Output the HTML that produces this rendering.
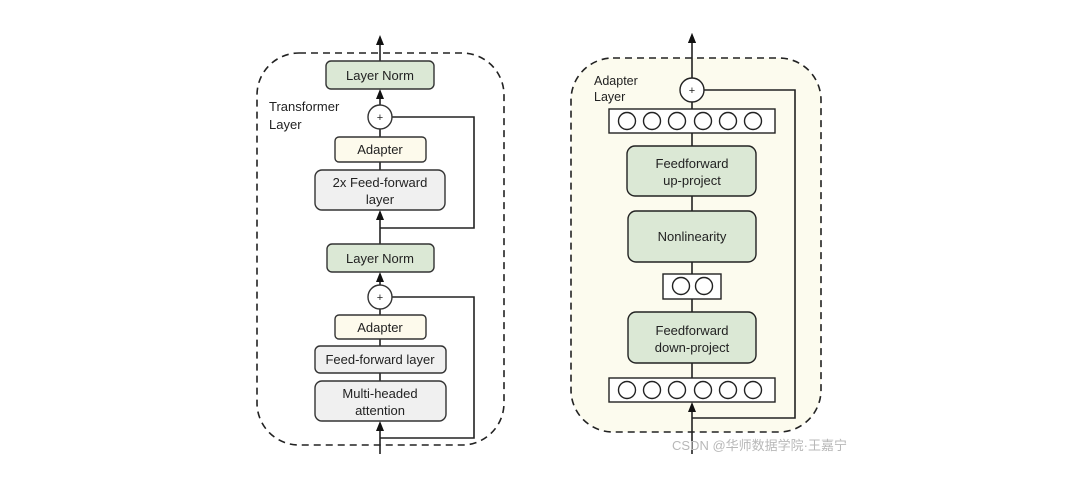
<!DOCTYPE html>
<html><head><meta charset="utf-8"><style>
body{margin:0;background:#fff}
text{font-family:"Liberation Sans","Noto Sans CJK SC",sans-serif;fill:#222}
</style></head><body>
<svg width="1080" height="477" viewBox="0 0 1080 477" xmlns="http://www.w3.org/2000/svg">
<g stroke="#222" stroke-width="1.6" fill="none">
<!-- Left panel -->
<rect x="257" y="53" width="247" height="392" rx="42" stroke-dasharray="7,5"/>
<line x1="380" y1="61" x2="380" y2="42"/>
<line x1="380" y1="105" x2="380" y2="96"/>
<line x1="380" y1="129" x2="380" y2="137"/>
<line x1="380" y1="162" x2="380" y2="170"/>
<polyline points="392,117 474,117 474,228 380,228"/>
<line x1="380" y1="244" x2="380" y2="217"/>
<line x1="380" y1="285" x2="380" y2="279"/>
<line x1="380" y1="309" x2="380" y2="315"/>
<line x1="380" y1="339" x2="380" y2="346"/>
<line x1="380" y1="373" x2="380" y2="381"/>
<polyline points="392,297 474,297 474,438 380,438"/>
<line x1="380" y1="454" x2="380" y2="428"/>
</g>
<g fill="#111">
<polygon points="380,35 376,45 384,45"/>
<polygon points="380,89 376,99 384,99"/>
<polygon points="380,210 376,220 384,220"/>
<polygon points="380,272 376,282 384,282"/>
<polygon points="380,421 376,431 384,431"/>
<polygon points="692,33 688,43 696,43"/>
<polygon points="692,402 688,412 696,412"/>
</g>
<g stroke="#333" stroke-width="1.4">
<rect x="326" y="61" width="108" height="28" rx="5" fill="#dbe8d5"/>
<circle cx="380" cy="117" r="12" fill="#fff"/>
<rect x="335" y="137" width="91" height="25" rx="4" fill="#fdfaec"/>
<rect x="315" y="170" width="130" height="40" rx="7" fill="#f0f0f0"/>
<rect x="327" y="244" width="107" height="28" rx="5" fill="#dbe8d5"/>
<circle cx="380" cy="297" r="12" fill="#fff"/>
<rect x="335" y="315" width="91" height="24" rx="4" fill="#fdfaec"/>
<rect x="315" y="346" width="131" height="27" rx="5" fill="#f0f0f0"/>
<rect x="315" y="381" width="131" height="40" rx="7" fill="#f0f0f0"/>
</g>
<g font-size="13" text-anchor="middle">
<text x="380" y="80">Layer Norm</text>
<text x="380" y="121" font-size="11">+</text>
<text x="380" y="154">Adapter</text>
<text x="380" y="187">2x Feed-forward</text>
<text x="380" y="204">layer</text>
<text x="380" y="263">Layer Norm</text>
<text x="380" y="301" font-size="11">+</text>
<text x="380" y="332">Adapter</text>
<text x="380" y="364">Feed-forward layer</text>
<text x="380" y="398">Multi-headed</text>
<text x="380" y="415">attention</text>
</g>
<text x="269" y="111" font-size="13">Transformer</text>
<text x="269" y="129" font-size="13">Layer</text>
<!-- Right panel -->
<rect x="571" y="58" width="250" height="374" rx="42" fill="#fcfbee" stroke="#222" stroke-width="1.6" stroke-dasharray="7,5"/>
<g stroke="#222" stroke-width="1.6" fill="none">
<line x1="692" y1="78" x2="692" y2="40"/>
<line x1="692" y1="102" x2="692" y2="109"/>
<line x1="692" y1="133" x2="692" y2="146"/>
<line x1="692" y1="196" x2="692" y2="211"/>
<line x1="692" y1="262" x2="692" y2="274"/>
<line x1="692" y1="299" x2="692" y2="312"/>
<line x1="692" y1="363" x2="692" y2="378"/>
<polyline points="704,90 795,90 795,418 692,418"/>
<line x1="692" y1="454" x2="692" y2="409"/>
</g>
<g fill="#111">
<polygon points="692,33 688,43 696,43"/>
<polygon points="692,402 688,412 696,412"/>
</g>
<g stroke="#222" stroke-width="1.4">
<circle cx="692" cy="90" r="12" fill="#fff"/>
<rect x="609" y="109" width="166" height="24" fill="#fff"/>
<rect x="627" y="146" width="129" height="50" rx="8" fill="#dbe8d5"/>
<rect x="628" y="211" width="128" height="51" rx="8" fill="#dbe8d5"/>
<rect x="663" y="274" width="58" height="25" fill="#fff"/>
<rect x="628" y="312" width="128" height="51" rx="8" fill="#dbe8d5"/>
<rect x="609" y="378" width="166" height="24" fill="#fff"/>
<g fill="#fff">
<circle cx="627" cy="121" r="8.5"/><circle cx="652" cy="121" r="8.5"/><circle cx="677" cy="121" r="8.5"/><circle cx="703" cy="121" r="8.5"/><circle cx="728" cy="121" r="8.5"/><circle cx="753" cy="121" r="8.5"/>
<circle cx="681" cy="286" r="8.5"/><circle cx="704" cy="286" r="8.5"/>
<circle cx="627" cy="390" r="8.5"/><circle cx="652" cy="390" r="8.5"/><circle cx="677" cy="390" r="8.5"/><circle cx="703" cy="390" r="8.5"/><circle cx="728" cy="390" r="8.5"/><circle cx="753" cy="390" r="8.5"/>
</g>
</g>
<g font-size="13" text-anchor="middle">
<text x="692" y="94" font-size="11">+</text>
<text x="692" y="168">Feedforward</text>
<text x="692" y="185">up-project</text>
<text x="692" y="241">Nonlinearity</text>
<text x="692" y="335">Feedforward</text>
<text x="692" y="352">down-project</text>
</g>
<text x="594" y="85" font-size="12.5">Adapter</text>
<text x="594" y="101" font-size="12.5">Layer</text>
<text x="672" y="450" font-size="13" style="fill:#b8b8b8">CSDN @华师数据学院·王嘉宁</text>
</svg>
</body></html>
